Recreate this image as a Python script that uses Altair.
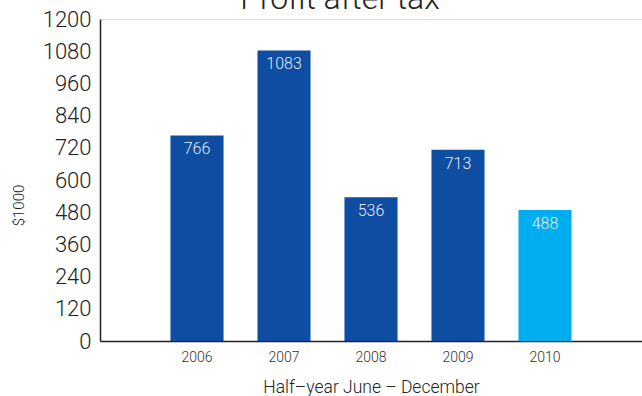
import altair as alt
import pandas as pd

years = ["2006", "2007", "2008", "2009", "2010"]
profit = [766, 1083, 536, 713, 488]
y_ticks = [0, 120, 240, 360, 480, 600, 720, 840, 960, 1080, 1200]

df = pd.DataFrame({"year": years, "profit": profit})

FONT = "Roboto"
W = 300

x = alt.X(
    "year:N",
    sort=years,
    scale=alt.Scale(paddingInner=0.39, paddingOuter=0.81),
    axis=alt.Axis(
        title="Half\u2013year June \u2013 December",
        labelAngle=0,
        ticks=False,
        tickSize=0,
        labelPadding=9,
        labelFontSize=14,
        labelFontWeight=W,
        labelColor="#333333",
        labelFont=FONT,
        titleFont=FONT,
        titleFontSize=17.5,
        titleFontWeight=W,
        titleColor="#222222",
        titleY=46,
        titleBaseline="middle",
        domainColor="#222222",
        domainWidth=1.5,
    ),
)

y = alt.Y(
    "profit:Q",
    scale=alt.Scale(domain=[0, 1200], nice=False),
    axis=alt.Axis(
        title="$1000",
        values=y_ticks,
        format="d",
        labelOverlap=False,
        grid=False,
        ticks=False,
        tickSize=0,
        labelPadding=9,
        labelFontSize=22,
        labelFontWeight=W,
        labelColor="#222222",
        labelFont=FONT,
        titleFont=FONT,
        titleFontSize=15,
        titleFontWeight=W,
        titleColor="#222222",
        titleX=-82,
        titleY=186,
        titleAlign="center",
        titleBaseline="middle",
        domainColor="#222222",
        domainWidth=1.5,
    ),
)

bars = alt.Chart(df).mark_bar().encode(
    x=x,
    y=y,
    color=alt.condition(
        alt.datum.year == "2010", alt.value("#00AEEF"), alt.value("#0E4DA1")
    ),
)

labels = alt.Chart(df).mark_text(
    baseline="middle", dy=14, fontSize=16, fontWeight=W, color="#E6ECF7", font=FONT
).encode(x=x, y=y, text="profit:Q")

chart = (
    alt.layer(bars, labels)
    .properties(
        width=542,
        height=322,
        autosize=alt.AutoSizeParams(type="none"),
        padding={"left": 100, "top": 19, "right": 0, "bottom": 55},
        title=alt.TitleParams(
            "Profit after tax",
            fontSize=32,
            font=FONT,
            fontWeight=W,
            color="#222222",
            anchor="middle",
            frame="group",
            baseline="alphabetic",
            offset=0,
            dx=-31,
            dy=33,
        ),
    )
    .configure_view(stroke=None)
    .configure(background="white")
)

chart.save("out.html", embed_options={"renderer": "svg", "actions": False})
